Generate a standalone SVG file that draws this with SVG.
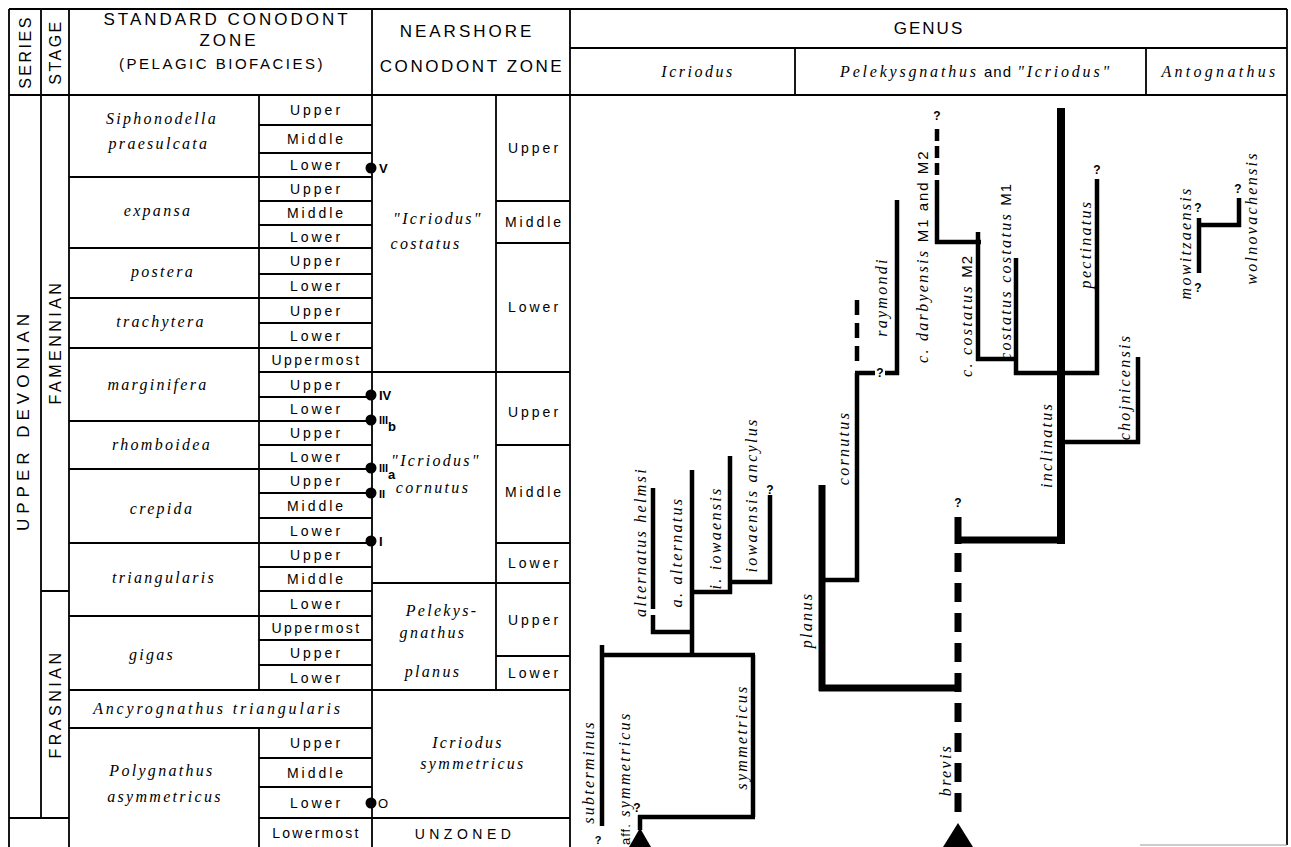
<svg xmlns="http://www.w3.org/2000/svg" width="1291" height="847" viewBox="0 0 1291 847">
<style>
.g{stroke:#000;stroke-width:1.8;fill:none}
.t{stroke:#000;stroke-width:4.5;fill:none}
.tk{stroke:#000;stroke-width:7;fill:none}
.s{font-family:"Liberation Sans",Arial,sans-serif;fill:#000}
.sz{font-size:14px;letter-spacing:3px;text-anchor:middle}
.i{font-family:"Liberation Serif","Times New Roman",serif;font-style:italic;font-size:16px;letter-spacing:2.3px;fill:#000}
.m{text-anchor:middle}
.q{font-family:"Liberation Sans",Arial,sans-serif;font-size:12px;font-weight:bold;text-anchor:middle;fill:#000}
.mk{font-family:"Liberation Sans",Arial,sans-serif;font-size:13px;font-weight:bold;fill:#000}
.h{font-family:"Liberation Sans",Arial,sans-serif;font-size:16px;letter-spacing:3.5px;text-anchor:middle;fill:#000}
</style>
<rect width="1291" height="847" fill="#fff"/>

<g id="grid" class="g">
<path d="M9,9H1287M9,9V847M9,95H1287M41,9V818M69,9V847M372,9V847M570,9V847M1287,9V845M570,48H1287M795,48V95M1146,48V95"/>
<path d="M259,95V690M259,728V847M496,95V690"/>
<path d="M41,591H69M9,818H69"/>
<path d="M69,177H372M69,248H372M69,298H372M69,348H372M69,421H372M69,469H372M69,543H372M69,616H372M69,690H570M69,728H372"/>
<path d="M259,125H372M259,153H372M259,201H372M259,225H372M259,274H372M259,323H372M259,372H570M259,397H372M259,445H372M259,493H372M259,518H372M259,567H372M259,591H372M259,640H372M259,665H372M259,758H372M259,787H372M259,818H570"/>
<path d="M372,583H570M496,201H570M496,243H570M496,445H570M496,543H570M496,656H570"/>
<path d="M1140,845H1287" stroke="#999" stroke-width="1"/>
</g>

<g id="header">
<text class="h" transform="translate(31,52) rotate(-90)" style="letter-spacing:2.5px">SERIES</text>
<text class="h" transform="translate(61,52) rotate(-90)" style="letter-spacing:2.5px">STAGE</text>
<text class="h" x="227" y="25" style="font-size:17px;letter-spacing:3px">STANDARD CONODONT</text>
<text class="h" x="229" y="46" style="font-size:17px;letter-spacing:3px">ZONE</text>
<text class="h" x="222" y="69" style="font-size:15px;letter-spacing:2.5px">(PELAGIC BIOFACIES)</text>
<text class="h" x="467" y="37" style="font-size:17px;letter-spacing:3px">NEARSHORE</text>
<text class="h" x="472" y="72" style="font-size:17px;letter-spacing:2.6px">CONODONT ZONE</text>
<text class="h" x="929" y="34" style="font-size:17px;letter-spacing:2px">GENUS</text>
<text class="i m" x="698" y="77" style="letter-spacing:2.5px">Icriodus</text>
<text x="976" y="77" class="m"><tspan class="i" style="letter-spacing:2.8px">Pelekysgnathus</tspan><tspan class="s" style="font-size:15px;letter-spacing:1px"> and </tspan><tspan class="i" style="letter-spacing:2.8px">"Icriodus"</tspan></text>
<text class="i m" x="1220" y="77" style="letter-spacing:3.3px">Antognathus</text>
</g>

<g id="series-stage">
<text class="h" transform="translate(29,420) rotate(-90)" style="font-size:17px;letter-spacing:5px">UPPER DEVONIAN</text>
<text class="h" transform="translate(61,342) rotate(-90)">FAMENNIAN</text>
<text class="h" transform="translate(61,704) rotate(-90)">FRASNIAN</text>
</g>

<g id="standard-zones" class="i m">
<text x="162" y="124">Siphonodella</text>
<text x="159" y="149">praesulcata</text>
<text x="158" y="216">expansa</text>
<text x="163" y="277">postera</text>
<text x="161" y="327">trachytera</text>
<text x="158" y="390">marginifera</text>
<text x="162" y="450">rhomboidea</text>
<text x="162" y="514">crepida</text>
<text x="164" y="583">triangularis</text>
<text x="152" y="660">gigas</text>
<text x="218" y="714" style="letter-spacing:2.8px">Ancyrognathus triangularis</text>
<text x="162" y="776">Polygnathus</text>
<text x="165" y="802">asymmetricus</text>
</g>

<g id="subzones" class="s sz">
<text x="316.5" y="115">Upper</text>
<text x="316.5" y="144">Middle</text>
<text x="316.5" y="170">Lower</text>
<text x="316.5" y="194">Upper</text>
<text x="316.5" y="218">Middle</text>
<text x="316.5" y="241.5">Lower</text>
<text x="316.5" y="266">Upper</text>
<text x="316.5" y="291">Lower</text>
<text x="316.5" y="315.5">Upper</text>
<text x="316.5" y="340.5">Lower</text>
<text x="316.5" y="365" style="letter-spacing:2.4px">Uppermost</text>
<text x="316.5" y="389.5">Upper</text>
<text x="316.5" y="414">Lower</text>
<text x="316.5" y="438">Upper</text>
<text x="316.5" y="462">Lower</text>
<text x="316.5" y="486">Upper</text>
<text x="316.5" y="510.5">Middle</text>
<text x="316.5" y="535.5">Lower</text>
<text x="316.5" y="560">Upper</text>
<text x="316.5" y="584">Middle</text>
<text x="316.5" y="608.5">Lower</text>
<text x="316.5" y="633" style="letter-spacing:2.4px">Uppermost</text>
<text x="316.5" y="657.5">Upper</text>
<text x="316.5" y="682.5">Lower</text>
<text x="316.5" y="748">Upper</text>
<text x="316.5" y="777.5">Middle</text>
<text x="316.5" y="807.5">Lower</text>
<text x="316.5" y="837.5" style="letter-spacing:2.2px">Lowermost</text>
</g>

<g id="nearshore">
<text class="i m" x="438" y="224">"Icriodus"</text>
<text class="i m" x="426" y="249">costatus</text>
<text class="i m" x="436" y="466">"Icriodus"</text>
<text class="i m" x="433" y="493">cornutus</text>
<text class="i m" x="442" y="616">Pelekys-</text>
<text class="i m" x="433" y="638">gnathus</text>
<text class="i m" x="433" y="677">planus</text>
<text class="i m" x="468" y="748">Icriodus</text>
<text class="i m" x="473" y="769">symmetricus</text>
<text class="s sz" x="465" y="839" style="letter-spacing:4.5px">UNZONED</text>
<g class="s sz">
<text x="534.5" y="153">Upper</text>
<text x="534.5" y="227">Middle</text>
<text x="534.5" y="312">Lower</text>
<text x="534.5" y="417">Upper</text>
<text x="534.5" y="497">Middle</text>
<text x="534.5" y="568">Lower</text>
<text x="534.5" y="625">Upper</text>
<text x="534.5" y="678">Lower</text>
</g>
</g>

<g id="markers">
<circle cx="371" cy="168" r="5.5"/>
<circle cx="371" cy="395" r="5.5"/>
<circle cx="371" cy="420" r="5.5"/>
<circle cx="371" cy="468" r="5.5"/>
<circle cx="371" cy="493" r="5.5"/>
<circle cx="371" cy="541" r="5.5"/>
<circle cx="371" cy="803" r="5.5"/>
<text class="mk" x="379" y="173">V</text>
<text class="mk" x="379" y="400">IV</text>
<text class="mk" x="379" y="424" style="font-size:11px">III</text>
<text class="mk" x="388" y="431">b</text>
<text class="mk" x="379" y="472" style="font-size:11px">III</text>
<text class="mk" x="388" y="479">a</text>
<text class="mk" x="379" y="498" style="font-size:11px">II</text>
<text class="mk" x="379" y="546">I</text>
<text class="mk" x="378" y="808" style="font-weight:normal">O</text>
</g>

<g id="connectors">
<path class="t" d="M602,645V826M600,655H755M753,655V817M638,817H755M640,815V830M692,470V655M653,488V609M653,615V634M651,632H694M692,592H732M730,456V594M730,582H772M770,495V584"/>
<polygon points="640,828 651,847 629,847"/>
<path class="tk" d="M822,485V691M819,688H961M958,517V544M955,540H1062"/>
<path class="tk" d="M958,553V813" stroke-dasharray="19 11"/>
<polygon points="958,823 973,847 943,847"/>
<path class="t" d="M857,373V582M822,580H859M855,373H875M885,373H899M897,200V375"/>
<path class="t" d="M857,300V364" stroke-dasharray="15 8"/>
<path class="t" d="M937,129V178" stroke-dasharray="12 5"/>
<path class="t" d="M937,180V244M935,242H981M978,232V361M976,359H1018M1016,258V375M1014,373H1099M1097,179V375M1062,442H1140M1138,357V444"/>
<path stroke="#000" stroke-width="8" d="M1061,108V544"/>
<path class="t" d="M1199,218V273M1197,225H1241M1239,198V227"/>
</g>

<g id="question-marks" class="q">
<text x="598" y="844" style="font-size:11px">?</text>
<text x="637" y="812">?</text>
<text x="770" y="494">?</text>
<text x="880" y="377">?</text>
<text x="937" y="120">?</text>
<text x="958" y="507">?</text>
<text x="1097" y="174">?</text>
<text x="1238" y="193">?</text>
<text x="1198" y="212">?</text>
<text x="1198" y="292">?</text>
</g>

<g id="taxa" class="i">
<text class="m" transform="translate(594,772) rotate(-90)">subterminus</text>
<text transform="translate(630,845) rotate(-90)"><tspan class="s" style="font-style:normal;font-size:13px;letter-spacing:1px">aff.</tspan> symmetricus</text>
<text class="m" transform="translate(747,737) rotate(-90)">symmetricus</text>
<text class="m" transform="translate(646,542) rotate(-90)">alternatus helmsi</text>
<text class="m" transform="translate(682,552) rotate(-90)">a. alternatus</text>
<text class="m" transform="translate(721,538) rotate(-90)">i. iowaensis</text>
<text class="m" transform="translate(757,495) rotate(-90)">iowaensis ancylus</text>
<text class="m" transform="translate(812,620) rotate(-90)">planus</text>
<text class="m" transform="translate(849,448) rotate(-90)">cornutus</text>
<text class="m" transform="translate(951,770) rotate(-90)">brevis</text>
<text class="m" transform="translate(1052,445) rotate(-90)">inclinatus</text>
<text class="m" transform="translate(887,297) rotate(-90)">raymondi</text>
<text transform="translate(928,363) rotate(-90)">c. darbyensis <tspan class="s" style="font-style:normal;font-size:15px;letter-spacing:2px">M1 and M2</tspan></text>
<text transform="translate(972,377) rotate(-90)">c. costatus <tspan class="s" style="font-style:normal;font-size:15px;letter-spacing:1px">M2</tspan></text>
<text transform="translate(1011,360) rotate(-90)">costatus costatus <tspan class="s" style="font-style:normal;font-size:15px;letter-spacing:1px">M1</tspan></text>
<text class="m" transform="translate(1091,244) rotate(-90)">pectinatus</text>
<text class="m" transform="translate(1130,387) rotate(-90)">chojnicensis</text>
<text class="m" transform="translate(1191,243) rotate(-90)">mowitzaensis</text>
<text class="m" transform="translate(1257,218) rotate(-90)">wolnovachensis</text>
</g>
</svg>
